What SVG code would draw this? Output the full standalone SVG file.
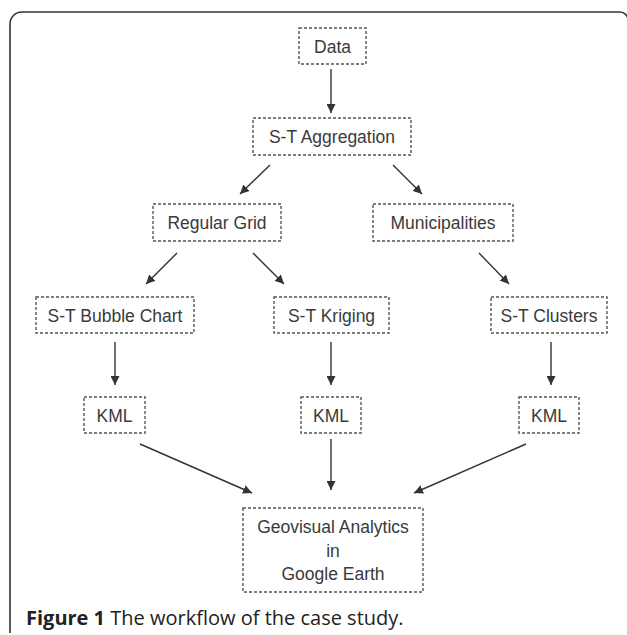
<svg xmlns="http://www.w3.org/2000/svg" width="627" height="635" viewBox="0 0 627 635">
<style>
.box{fill:none;stroke:#555;stroke-width:1.4;stroke-dasharray:3 2}
.lbl{font-family:"Liberation Sans",Arial,sans-serif;font-size:17.5px;fill:#3a3a3a;text-anchor:middle}
.edge{fill:none;stroke:#333;stroke-width:1.4;marker-end:url(#ah)}
.frame{fill:none;stroke:#333;stroke-width:1.6}
.cap{font-family:"Open Sans","Liberation Sans",sans-serif;font-size:20px;fill:#222}
</style>
<defs>
<marker id="ah" viewBox="0 0 10 10" refX="10" refY="5" markerWidth="9" markerHeight="9" markerUnits="userSpaceOnUse" orient="auto">
<path d="M0,0 L10,5 L0,10 z" fill="#333"/>
</marker>
</defs>
<rect width="627" height="635" fill="#fff"/>
<path class="frame" d="M10,633 L10,24 A12,12 0 0 1 22,12 L620,12 A8,8 0 0 1 628,20"/>
<g id="n-data"><rect class="box" x="299" y="28" width="67" height="36"/><text class="lbl" x="332.5" y="52.5">Data</text></g>
<g id="n-agg"><rect class="box" x="253" y="118" width="158" height="37"/><text class="lbl" x="332" y="143">S-T Aggregation</text></g>
<g id="n-grid"><rect class="box" x="153" y="204" width="128" height="37"/><text class="lbl" x="217" y="229">Regular Grid</text></g>
<g id="n-muni"><rect class="box" x="373" y="204" width="140" height="37"/><text class="lbl" x="443" y="229">Municipalities</text></g>
<g id="n-bubble"><rect class="box" x="36" y="297" width="158" height="36"/><text class="lbl" x="115" y="321.5">S-T Bubble Chart</text></g>
<g id="n-kriging"><rect class="box" x="274" y="297" width="115" height="36"/><text class="lbl" x="331.5" y="321.5">S-T Kriging</text></g>
<g id="n-clusters"><rect class="box" x="491" y="297" width="116" height="36"/><text class="lbl" x="549" y="321.5">S-T Clusters</text></g>
<g id="n-kml1"><rect class="box" x="84" y="397" width="61" height="36"/><text class="lbl" x="114.5" y="421.5">KML</text></g>
<g id="n-kml2"><rect class="box" x="301" y="397" width="60" height="36"/><text class="lbl" x="331" y="421.5">KML</text></g>
<g id="n-kml3"><rect class="box" x="519" y="397" width="60" height="36"/><text class="lbl" x="549" y="421.5">KML</text></g>
<g id="n-geo"><rect class="box" x="243" y="508" width="180" height="84"/>
<text class="lbl" x="333" y="533">Geovisual Analytics</text>
<text class="lbl" x="333" y="556.5">in</text>
<text class="lbl" x="333" y="580">Google Earth</text></g>
<g id="connectors">
<line class="edge" x1="331" y1="69" x2="331" y2="113"/>
<line class="edge" x1="270" y1="165" x2="240" y2="194"/>
<line class="edge" x1="393" y1="165" x2="422" y2="194"/>
<line class="edge" x1="177" y1="253" x2="146" y2="284"/>
<line class="edge" x1="253" y1="253" x2="284" y2="284"/>
<line class="edge" x1="479" y1="253" x2="509" y2="284"/>
<line class="edge" x1="115" y1="342" x2="115" y2="385"/>
<line class="edge" x1="331" y1="342" x2="331" y2="385"/>
<line class="edge" x1="551" y1="342" x2="551" y2="385"/>
<line class="edge" x1="140" y1="444" x2="252" y2="493"/>
<line class="edge" x1="331" y1="439" x2="331" y2="490"/>
<line class="edge" x1="526" y1="444" x2="414" y2="493"/>
</g>
<text class="cap" x="26" y="625"><tspan font-weight="bold">Figure 1</tspan> The workflow of the case study.</text>
</svg>
